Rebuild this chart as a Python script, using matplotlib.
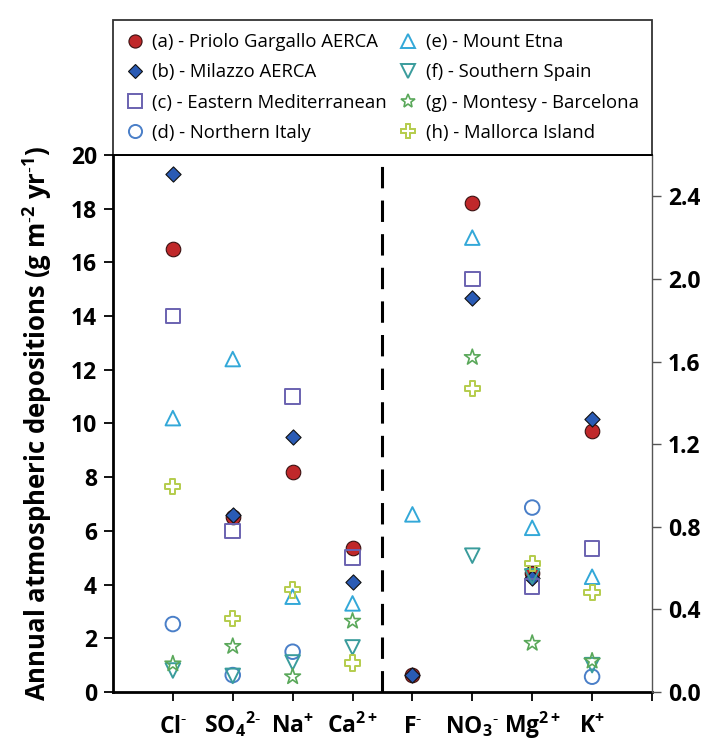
import numpy as np
import matplotlib
matplotlib.use("Agg")
import matplotlib.pyplot as plt
from matplotlib.lines import Line2D

plt.rcParams["font.family"] = ["Open Sans", "DejaVu Sans"]
plt.rcParams["mathtext.default"] = "regular"

# ── Data ─────────────────────────────────────────────────────────────
# major ions (left axis, g m-2 yr-1)
major_ions = ["Cl$^{\u2010}$", "SO$_{4}$$^{2\u2010}$", "Na$^{+}$", "Ca$^{2+}$"]
# minor ions (right axis, g m-2 yr-1)
minor_ions = ["F$^{\u2010}$", "NO$_{3}$$^{\u2010}$", "Mg$^{2+}$", "K$^{+}$"]

site_labels = [
    "(a) - Priolo Gargallo AERCA",
    "(b) - Milazzo AERCA",
    "(c) - Eastern Mediterranean",
    "(d) - Northern Italy",
    "(e) - Mount Etna",
    "(f) - Southern Spain",
    "(g) - Montesy - Barcelona",
    "(h) - Mallorca Island",
]

# values per site: Cl, SO4, Na, Ca  (None = not reported)
major_a = [16.5, 6.5, 8.2, 5.35]
major_b = [19.3, 6.6, 9.5, 4.1]
major_c = [14.0, 6.0, 11.0, 5.0]
major_d = [2.53, 0.63, 1.5, None]
major_e = [10.2, 12.4, 3.55, 3.3]
major_f = [0.8, 0.6, 1.1, 1.66]
major_g = [1.05, 1.7, 0.57, 2.64]
major_h = [7.65, 2.74, 3.8, 1.08]

# values per site: F, NO3, Mg, K
minor_a = [0.08, 2.37, 0.575, 1.263]
minor_b = [0.08, 1.91, 0.55, 1.324]
minor_c = [None, 2.0, 0.51, 0.695]
minor_d = [None, None, 0.893, 0.074]
minor_e = [0.86, 2.2, 0.795, 0.558]
minor_f = [None, 0.66, 0.56, 0.13]
minor_g = [None, 1.62, 0.236, 0.15]
minor_h = [None, 1.47, 0.623, 0.48]

major_vals = [major_a, major_b, major_c, major_d, major_e, major_f, major_g, major_h]
minor_vals = [minor_a, minor_b, minor_c, minor_d, minor_e, minor_f, minor_g, minor_h]

# ── Marker styles per site ───────────────────────────────────────────
styles = [
    dict(marker="o", s=110, fc="#c0282a", ec="#3a1010", lw=0.8),
    dict(marker="D", s=60, fc="#2a5bb5", ec="#111111", lw=0.8),
    dict(marker="s", s=110, fc="none", ec="#6a62b0", lw=1.4),
    dict(marker="o", s=110, fc="none", ec="#4a7fc8", lw=1.4),
    dict(marker="^", s=110, fc="none", ec="#33a8d8", lw=1.4),
    dict(marker="v", s=110, fc="none", ec="#3a9c9c", lw=1.4),
    dict(marker="*", s=140, fc="none", ec="#5aa85a", lw=1.2),
    dict(marker="P", s=120, fc="none", ec="#b4cc4c", lw=1.4),
]

x_major = np.arange(1, 5)
x_minor = np.arange(5, 9)

fig = plt.figure(figsize=(7.06, 7.42), dpi=100)
ax = fig.add_axes([0.160, 0.0674, 0.7635, 0.7237])
ax2 = ax.twinx()

for vals, st in zip(major_vals, styles):
    xs = [x for x, v in zip(x_major, vals) if v is not None]
    ys = [v for v in vals if v is not None]
    ax.scatter(xs, ys, marker=st["marker"], s=st["s"], facecolors=st["fc"],
               edgecolors=st["ec"], linewidths=st["lw"], zorder=3, clip_on=False)

for vals, st in zip(minor_vals, styles):
    xs = [x for x, v in zip(x_minor, vals) if v is not None]
    ys = [v for v in vals if v is not None]
    ax2.scatter(xs, ys, marker=st["marker"], s=st["s"], facecolors=st["fc"],
                edgecolors=st["ec"], linewidths=st["lw"], zorder=3, clip_on=False)

# separator between the two ion groups
ax.axvline(4.5, color="k", lw=2.2, ls=(0, (7, 4)), zorder=2)

ax.set_xlim(0, 9)
ax.set_ylim(0, 20)
ax2.set_ylim(0, 2.6)

bold = dict(fontsize=16.5, fontweight="bold")
ax.set_xticks(list(x_major) + list(x_minor) + [9])
ax.set_xticklabels(major_ions + minor_ions + [""], **bold)
for lbl in ax.get_xticklabels():
    lbl.set_verticalalignment("baseline")
ax.set_yticks(np.arange(0, 21, 2))
ax.set_yticklabels([f"{v:d}" for v in range(0, 21, 2)], **bold)
ax2.set_yticks(np.arange(0, 2.5, 0.4))
ax2.set_yticklabels([f"{v:.1f}" for v in np.arange(0, 2.5, 0.4)], **bold)

ax.tick_params(axis="both", direction="out", length=6.5, width=1.3, pad=5)
ax.tick_params(axis="x", pad=23)
ax2.tick_params(axis="y", direction="out", length=6.5, width=1.0, color="#555555", pad=5)

ax.spines["left"].set_linewidth(2.0)
ax.spines["bottom"].set_linewidth(2.0)
ax.spines["top"].set_linewidth(1.3)
ax2.spines["left"].set_visible(False)
ax2.spines["bottom"].set_visible(False)
ax2.spines["top"].set_linewidth(1.3)
ax2.spines["right"].set_linewidth(1.0)
ax2.spines["right"].set_color("#555555")
ax.spines["right"].set_visible(False)

ax.set_ylabel("Annual atmospheric depositions (g m$^{\u20102}$ yr$^{\u20101}$)",
              fontsize=18.5, fontweight="bold", labelpad=12)

handles = [
    Line2D([], [], ls="none", marker=st["marker"], markersize=np.sqrt(st["s"]) * 0.9,
           markerfacecolor=st["fc"], markeredgecolor=st["ec"], markeredgewidth=st["lw"])
    for st in styles
]
leg = ax.legend(handles, site_labels, ncol=2, loc="lower left",
                bbox_to_anchor=(0, 1, 1, 0.2), mode="expand", borderaxespad=0,
                fontsize=13.3, frameon=True, fancybox=False, labelspacing=0.66,
                handlelength=0.9, handletextpad=0.5, borderpad=0.72,
                columnspacing=0.8)
leg.get_frame().set_edgecolor("black")
leg.get_frame().set_linewidth(1.3)

fig.savefig("out.png", dpi=100)
